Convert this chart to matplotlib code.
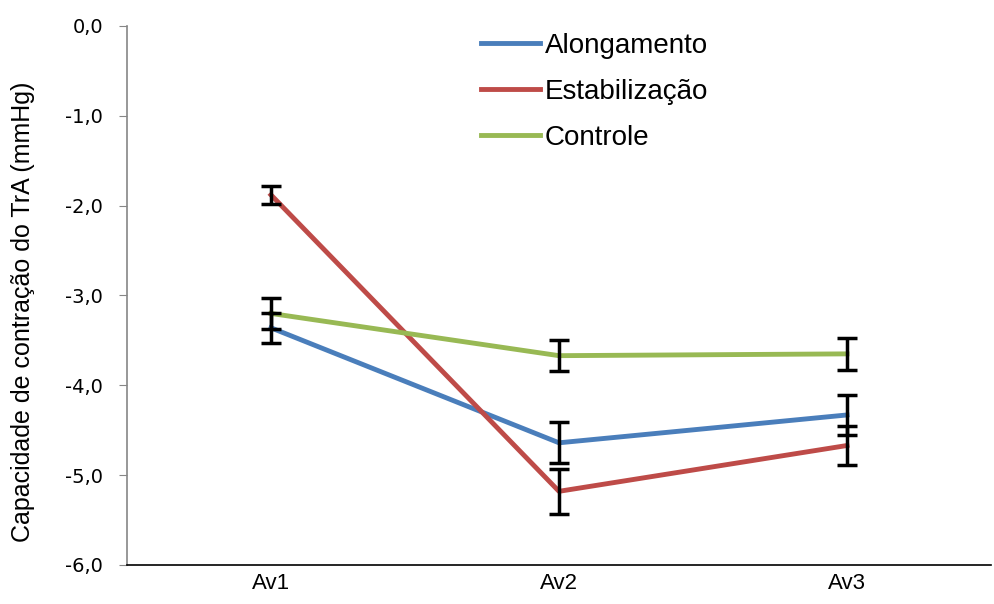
import matplotlib
matplotlib.use("Agg")
import matplotlib.pyplot as plt
import numpy as np

avaliacoes = ["Av1", "Av2", "Av3"]
alongamento = [-3.36, -4.64, -4.33]
alongamento_err = [0.17, 0.23, 0.22]
estabilizacao = [-1.88, -5.18, -4.67]
estabilizacao_err = [0.10, 0.25, 0.22]
controle = [-3.20, -3.67, -3.65]
controle_err = [0.17, 0.17, 0.18]

series = [
    ("Alongamento", alongamento, alongamento_err, "#4a7ebb"),
    ("Estabilização", estabilizacao, estabilizacao_err, "#be4b48"),
    ("Controle", controle, controle_err, "#98b954"),
]

fig = plt.figure(figsize=(9.95, 6.04), dpi=100)
ax = fig.add_axes([0.1276, 0.0646, 0.8684, 0.8924])

x = np.arange(len(avaliacoes))
for name, vals, err, color in series:
    ax.plot(x, vals, color=color, linewidth=3.5, label=name, zorder=3)
for name, vals, err, color in series:
    ax.errorbar(x, vals, yerr=err, fmt="none", ecolor="black",
                elinewidth=2.5, capsize=7, capthick=2.5, zorder=4)

ax.set_xlim(-0.5, 2.5)
ax.set_ylim(-6.0, 0.0)
ax.set_xticks(x)
ax.set_xticklabels(avaliacoes, fontname="Liberation Sans", fontsize=16)
yt = np.arange(-6, 0.5, 1.0)
ax.set_yticks(yt)
ax.set_yticklabels([f"{v:.1f}".replace(".", ",") for v in yt],
                   fontname="DejaVu Sans", fontsize=14)
ax.tick_params(axis="x", length=0, pad=6)
ax.tick_params(axis="y", length=6, color="#868686", pad=11)

for side in ["top", "right"]:
    ax.spines[side].set_visible(False)
ax.spines["left"].set_color("#868686")
ax.spines["bottom"].set_color("black")
ax.spines["left"].set_linewidth(1.2)
ax.spines["bottom"].set_linewidth(1.2)

ax.set_ylabel("Capacidade de contração do TrA (mmHg)", fontname="Liberation Sans",
              fontsize=18)
ax.yaxis.set_label_coords(-0.106, 0.47)

leg = ax.legend(loc="upper left", bbox_to_anchor=(0.41, 0.987), frameon=False,
                borderaxespad=0.0, borderpad=0.0,
                prop={"family": "Liberation Sans", "size": 20},
                handlelength=2.1, handletextpad=0.2, labelspacing=0.72)

fig.savefig("out.png", dpi=100)
